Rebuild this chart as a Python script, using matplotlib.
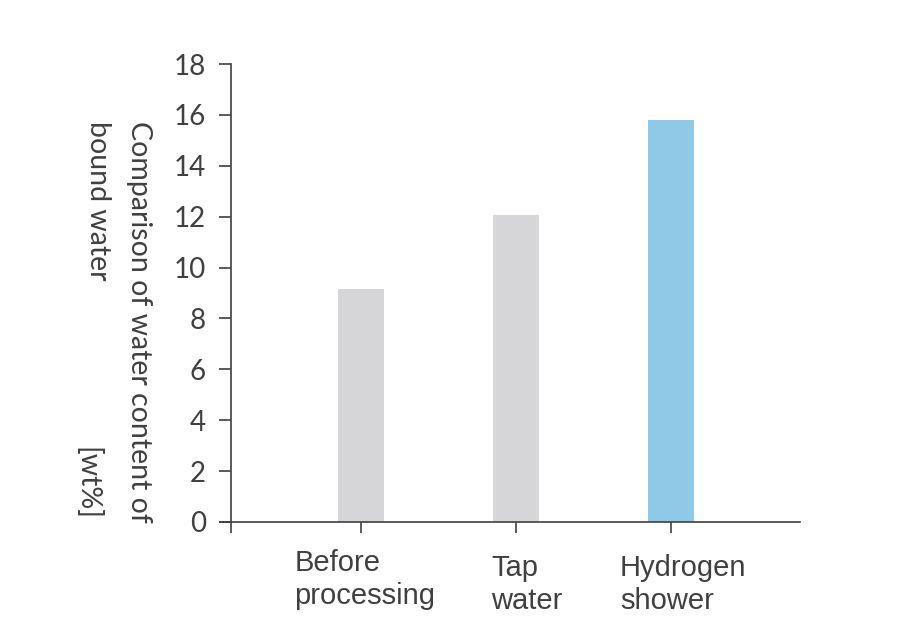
import matplotlib
matplotlib.use("Agg")
import matplotlib.pyplot as plt

categories = ["Before\nprocessing", "Tap\nwater", "Hydrogen\nshower"]
values = [9.15, 12.05, 15.8]
bar_colors = ["#d6d5d8", "#d6d5d8", "#8ecae8"]
yticks = [0, 2, 4, 6, 8, 10, 12, 14, 16, 18]

ink = "#404040"

fig = plt.figure(figsize=(9.1, 6.39), dpi=100)
ax = fig.add_axes([0.2418, 0.1831, 0.8791 - 0.2418, 0.8998 - 0.1831])

xs = [1, 2, 3]
ax.bar(xs, values, width=0.3, color=bar_colors, zorder=2)

ax.set_xlim(0.09, 3.832)
ax.set_ylim(0, 18)

for s in ["top", "right"]:
    ax.spines[s].set_visible(False)
ax.spines["left"].set_position(("data", 0.1613))
ax.spines["left"].set_color(ink)
ax.spines["bottom"].set_color(ink)
ax.spines["left"].set_linewidth(1.2)
ax.spines["bottom"].set_linewidth(1.2)

ax.set_yticks(yticks)
ax.set_yticklabels([str(v) for v in yticks], fontsize=20, color=ink,
                   family="Lato")
ax.tick_params(axis="y", length=9, width=1.2, color=ink, pad=9)

ax.set_xticks([0.1613] + xs)
ax.set_xticklabels([""] * 4)
ax.tick_params(axis="x", length=8, width=1.2, color=ink)

# category labels sit a bit right of their ticks, left-aligned lines
offsets = [(4, 27), (11, 32), (12, 32)]
for x, lab, (dx, dy) in zip(xs, categories, offsets):
    ax.annotate(lab, xy=(x, 0), xycoords=("data", "axes fraction"),
                xytext=(dx, -dy), textcoords="offset pixels",
                ha="center", va="top", multialignment="left",
                fontsize=21, color=ink, family="Liberation Sans",
                linespacing=1.22)

fig.text(0.153, 0.81, "Comparison of water content of",
         rotation=270, ha="center", va="top", fontsize=20.5, color=ink,
         family="Lato")
fig.text(0.108, 0.81, "bound water",
         rotation=270, ha="center", va="top", fontsize=20.5, color=ink,
         family="Lato")
fig.text(0.095, 0.186, "[wt%]", rotation=270, ha="center", va="bottom",
         fontsize=20.5, color=ink, family="Lato")

fig.savefig("out.png", dpi=100)
